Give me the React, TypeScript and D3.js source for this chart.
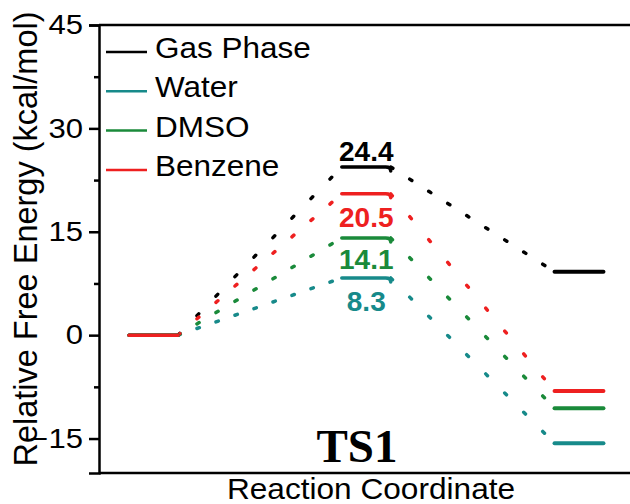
import { useEffect, useRef } from "react";
import * as d3 from "d3";

const series = ["Gas Phase", "Water", "DMSO", "Benzene"];
const colors = ["#000000", "#178a8a", "#1a8a3a", "#ee2020"];
const reactant = [0, 0, 0, 0];
const ts = [24.4, 8.3, 14.1, 20.5];
const product = [9.2, -15.7, -10.6, -8.1];
const yTicks = [-15, 0, 15, 30, 45];
const yMinor = [-7.5, 7.5, 22.5, 37.5];

export default function App() {
  const width = 630;
  const height = 504;
  const margin = { top: 25, right: 0, bottom: 31, left: 99 };
  const svgRef = useRef<SVGSVGElement>(null);

  useEffect(() => {
    const svg = d3.select(svgRef.current);
    svg.selectAll("*").remove();

    const y = d3
      .scaleLinear()
      .domain([-20, 45])
      .range([height - margin.bottom, margin.top]);
    // stage index: 0 reactant, 1 TS, 2 product
    const x = d3.scaleLinear().domain([0, 2]).range([153.5, 579]);
    const half = 0.115;

    // frame
    svg
      .append("line")
      .attr("x1", margin.left)
      .attr("x2", width)
      .attr("y1", margin.top)
      .attr("y2", margin.top)
      .attr("stroke", "#000")
      .attr("stroke-width", 2.5);
    svg
      .append("line")
      .attr("x1", margin.left)
      .attr("x2", width)
      .attr("y1", height - margin.bottom)
      .attr("y2", height - margin.bottom)
      .attr("stroke", "#000")
      .attr("stroke-width", 2.5);

    // y axis
    const ax = svg
      .append("g")
      .attr("transform", `translate(${margin.left}, 0)`)
      .call(
        d3
          .axisLeft(y)
          .tickValues(yTicks)
          .tickSize(10)
          .tickPadding(0)
          .tickFormat((d) => String(d).replace("-", "\u2212"))
      );
    ax.select(".domain").attr("stroke-width", 2.5);
    ax.selectAll(".tick line").attr("stroke-width", 2.5);
    ax.selectAll(".tick text")
      .attr("x", 0)
      .attr("transform", "translate(-16, 0) scale(1.15, 1)")
      .attr("font-family", "Liberation Sans, Arial, sans-serif")
      .attr("font-size", 27)
      .attr("fill", "#000");

    const minor = svg
      .append("g")
      .attr("transform", `translate(${margin.left}, 0)`)
      .call(d3.axisLeft(y).tickValues(yMinor).tickSize(5).tickFormat(() => ""));
    minor.select(".domain").remove();
    minor.selectAll(".tick line").attr("stroke-width", 2.5);

    // dotted connectors
    const conn = svg.append("g");
    series.forEach((_, i) => {
      const w = half * (x(1) - x(0));
      const segs = [
        [x(0) + w, y(reactant[i]), x(1) - w, y(ts[i])],
        [x(1) + w, y(ts[i]), x(2) - w, y(product[i])],
      ];
      segs.forEach(([x1, y1, x2, y2]) => {
        const dx = Math.abs(x2 - x1);
        const len = Math.hypot(x2 - x1, y2 - y1);
        const period = (len * 19) / dx;
        conn
          .append("line")
          .attr("x1", x1)
          .attr("y1", y1)
          .attr("x2", x2)
          .attr("y2", y2)
          .attr("stroke", colors[i])
          .attr("stroke-width", 3.5)
          .attr("stroke-linecap", "round")
          .attr("stroke-dasharray", `2.5 ${period - 2.5}`);
      });
    });

    // energy levels
    const lv = svg.append("g").attr("fill", "none").attr("stroke-linecap", "round");
    series.forEach((_, i) => {
      const w = half * (x(1) - x(0));
      lv.append("line")
        .attr("x1", x(0) - w)
        .attr("x2", x(0) + w)
        .attr("y1", y(reactant[i]))
        .attr("y2", y(reactant[i]))
        .attr("stroke", colors[i])
        .attr("stroke-width", 3.5);
      const yt = y(ts[i]);
      const x0 = x(1) - w;
      const x1 = x(1) + w;
      lv.append("path")
        .attr("d", `M${x0},${yt}H${x1 - 5}Q${x1},${yt} ${x1},${yt + 4}`)
        .attr("stroke", colors[i])
        .attr("stroke-width", 3.5);
      lv.append("line")
        .attr("x1", x(2) - w)
        .attr("x2", x(2) + w)
        .attr("y1", y(product[i]))
        .attr("y2", y(product[i]))
        .attr("stroke", colors[i])
        .attr("stroke-width", 4);
    });

    // TS value labels
    const labelDy = [-6, 33, 31, 33];
    svg
      .append("g")
      .selectAll("text")
      .data(ts)
      .join("text")
      .attr("x", x(1))
      .attr("y", (d, i) => y(d) + labelDy[i])
      .attr("text-anchor", "middle")
      .attr("font-family", "Liberation Sans, Arial, sans-serif")
      .attr("font-weight", "bold")
      .attr("font-size", 28)
      .attr("fill", (_, i) => colors[i])
      .text((d) => d.toFixed(1));

    // legend
    const lg = svg.append("g");
    series.forEach((s, i) => {
      const ly = 52 + i * 39.3;
      lg.append("line")
        .attr("x1", 106)
        .attr("x2", 147)
        .attr("y1", ly)
        .attr("y2", ly)
        .attr("stroke", colors[i])
        .attr("stroke-width", 2.5);
      lg.append("text")
        .attr("transform", `translate(155, ${ly + 6}) scale(1.05, 1)`)
        .attr("font-family", "Liberation Sans, Arial, sans-serif")
        .attr("font-size", 30)
        .attr("fill", "#000")
        .text(s);
    });

    // TS1 tag
    svg
      .append("text")
      .attr("x", 357)
      .attr("y", 462)
      .attr("text-anchor", "middle")
      .attr("font-family", "Liberation Serif, Times New Roman, serif")
      .attr("font-weight", "bold")
      .attr("font-size", 47)
      .text("TS1");

    //   axis labels
    svg
      .append("text")
      .attr("transform", `translate(371, 499) scale(1.09, 1)`)
      .attr("text-anchor", "middle")
      .attr("font-family", "Liberation Sans, Arial, sans-serif")
      .attr("font-size", 29)
      .text("Reaction Coordinate");

    svg
      .append("text")
      .attr("transform", "rotate(-90)")
      .attr("x", -239)
      .attr("y", 37)
      .attr("text-anchor", "middle")
      .attr("font-family", "Liberation Sans, Arial, sans-serif")
      .attr("font-size", 32.5)
      .text("Relative Free Energy (kcal/mol)");
  }, [margin.bottom, margin.top, margin.left]);

  return (
    <div style={{ position: "absolute", left: 0, top: 0 }}>
      <svg ref={svgRef} width={width} height={height} style={{ display: "block", background: "#fff" }} />
    </div>
  );
}
